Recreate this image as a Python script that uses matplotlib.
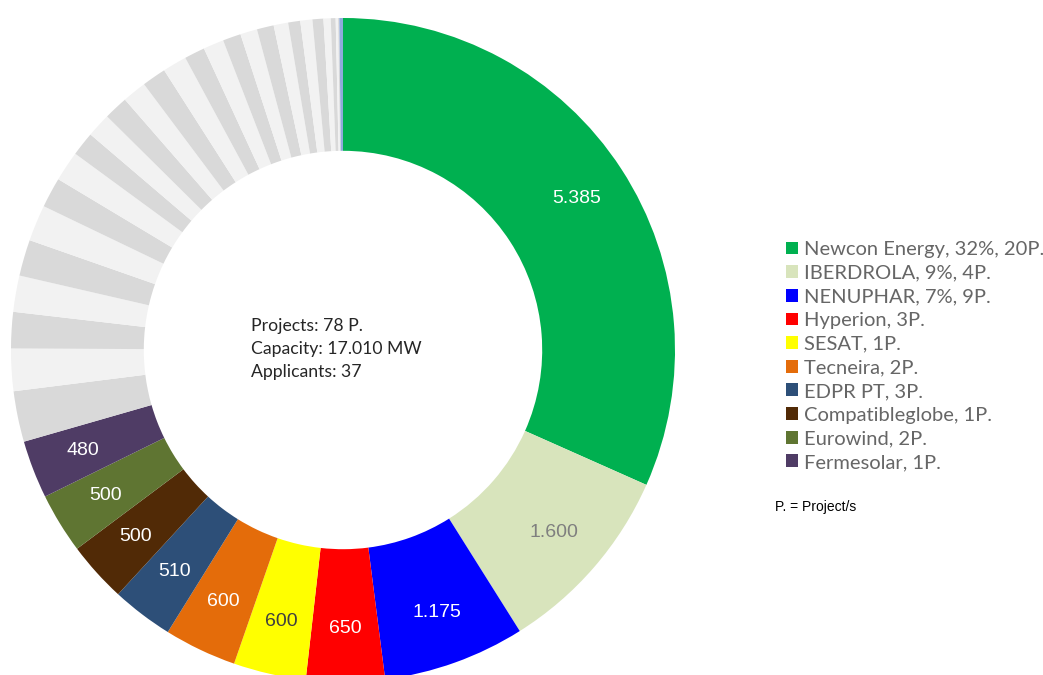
import matplotlib
matplotlib.use("Agg")
import matplotlib.pyplot as plt
import numpy as np

# named applicants (MW), clockwise from the top
names = ["Newcon Energy", "IBERDROLA", "NENUPHAR", "Hyperion", "SESAT",
         "Tecneira", "EDPR PT", "Compatibleglobe", "Eurowind", "Fermesolar"]
legend_text = ["Newcon Energy, 32%, 20P.", "IBERDROLA, 9%, 4P.", "NENUPHAR, 7%, 9P.",
               "Hyperion, 3P.", "SESAT, 1P.", "Tecneira, 2P.", "EDPR PT, 3P.",
               "Compatibleglobe, 1P.", "Eurowind, 2P.", "Fermesolar, 1P."]
named_mw = [5385, 1600, 1175, 650, 600, 600, 510, 500, 500, 480]
named_colors = ["#00b050", "#d8e4bc", "#0000ff", "#ff0000", "#ffff00",
                "#e46c0a", "#2d4f78", "#512a06", "#5f7532", "#4f3c65"]
label_colors = ["white", "#7f7f7f", "white", "white", "#404040",
                "white", "white", "white", "white", "white"]

# remaining applicants (grey), then the thin blue one at the top
other_mw = [420, 350, 300, 300, 300, 300, 250, 250, 200, 200, 200, 200, 200, 200,
            170, 170, 150, 140, 140, 120, 100, 100, 90, 60, 40, 20, 10]
last_mw = 30
last_color = "#8eaadb"

values = named_mw + other_mw + [last_mw]
colors = named_colors + ["#d9d9d9" if i % 2 == 0 else "#f2f2f2"
                         for i in range(len(other_mw))] + [last_color]

W, H = 1043, 675
fig = plt.figure(figsize=(W / 100, H / 100), dpi=100)
cx, cy, R = 343, 350, 332
ax = fig.add_axes([(cx - R) / W, (H - cy - R) / H, 2 * R / W, 2 * R / H])

wedges, _ = ax.pie(values, colors=colors, startangle=90, counterclock=False,
                   radius=1.0, wedgeprops=dict(width=0.4, linewidth=0))
ax.set_xlim(-1, 1)
ax.set_ylim(-1, 1)
ax.set_aspect("equal")
ax.axis("off")

for w, v, c in zip(wedges[:len(named_mw)], named_mw, label_colors):
    ang = np.deg2rad((w.theta1 + w.theta2) / 2)
    r = 0.84
    txt = f"{v:,}".replace(",", ".")
    ax.text(r * np.cos(ang), r * np.sin(ang), txt, ha="center", va="center",
            color=c, fontsize=14, family="Liberation Sans")

center = "Projects: 78 P.\nCapacity: 17.010 MW\nApplicants: 37"
fig.text(251 / W, 1 - 349 / H, center, ha="left", va="center",
         fontsize=12.7, family="Lato", color="#262626", linespacing=1.5)

fig.legend(wedges[:len(named_mw)], legend_text, loc="upper left",
           bbox_to_anchor=(776 / W, 1 - 231 / H), frameon=False, borderpad=0,
           handlelength=0.6, handleheight=0.6, handletextpad=0.3,
           labelspacing=0.33, labelcolor="#666666",
           prop=dict(family="Lato", size=14.5))

fig.text(775 / W, 1 - 507 / H, "P. = Project/s", ha="left", va="center",
         fontsize=10, family="Liberation Sans", color="black")

fig.savefig("out.png", dpi=100)
